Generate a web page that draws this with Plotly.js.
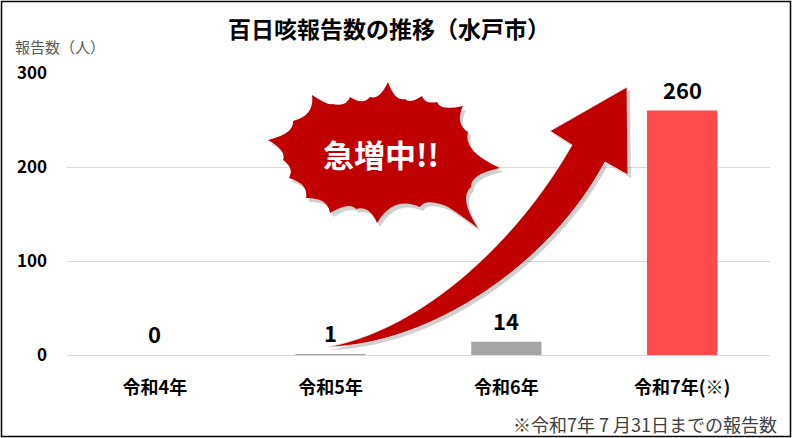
<!DOCTYPE html>
<html>
<head>
<meta charset="utf-8">
<script src="https://cdn.plot.ly/plotly-3.0.1.min.js"></script>
<style>
  html, body { margin: 0; padding: 0; background: #fff; }
  #chart { width: 792px; height: 438px; }
</style>
</head>
<body>
<div id="chart"></div>
<script>
// ---- data ----
const categories = ['令和4年', '令和5年', '令和6年', '令和7年(※)'];
const reports = [0, 1, 14, 260];
const barColors = ['#A5A5A5', '#A5A5A5', '#A5A5A5', '#FF4B4B'];
const yTickValues = [0, 100, 200, 300];
const chartTitle = '百日咳報告数の推移（水戸市）';
const yUnitLabel = '報告数（人）';
const footnote = '※令和7年 7 月31日までの報告数';
const burstText = '急増中!!';

// ---- layout geometry (pixels) ----
const W = 792, H = 438;
const M = { l: 67, r: 22, t: 73, b: 83 };
const plotW = W - M.l - M.r, plotH = H - M.t - M.b;
const PX = x => (x - M.l) / plotW;
const PY = y => (H - M.b - y) / plotH;

const JP = '"Noto Sans CJK JP", "Noto Sans", sans-serif';

// starburst decoration outline (pixel space)
const burstTips = [
  [268,140],[293,121],[312,95],[332,104],[350,97],[370,97],[388,82],[405,99],
  [422,96],[437,102],[463,106],[468,132],[500,168],[471,187],[478,228],[446,206],
  [420,207],[377,223],[356,209],[330,213],[306,198],[289,178],[283,160]
];
const burstCenter = [383,155];
function burstPath(dx, dy) {
  let d = '';
  const n = burstTips.length;
  for (let i = 0; i <= n; i++) {
    const B = burstTips[i % n];
    const bx = B[0] + dx, by = B[1] + dy;
    if (i === 0) { d += `M ${PX(bx)},${PY(by)}`; continue; }
    const A = burstTips[i - 1];
    const mx = (A[0] + B[0]) / 2, my = (A[1] + B[1]) / 2;
    const len = Math.hypot(B[0] - A[0], B[1] - A[1]);
    let vx = burstCenter[0] - mx, vy = burstCenter[1] - my;
    const vl = Math.hypot(vx, vy); vx /= vl; vy /= vl;
    const cx = mx + vx * 0.45 * len + dx, cy = my + vy * 0.45 * len + dy;
    d += ` Q ${PX(cx)},${PY(cy)} ${PX(bx)},${PY(by)}`;
  }
  return d + ' Z';
}

// curved arrow decoration (pixel space)
function arrowPath(dx, dy) {
  const p = (x, y) => `${PX(x + dx)},${PY(y + dy)}`;
  return `M ${p(327,347)} C ${p(420,330)} ${p(515,245)} ${p(572,145)}` +
         ` L ${p(550,131)} L ${p(627,87)} L ${p(628,175)} L ${p(605,162)}` +
         ` C ${p(550,265)} ${p(430,345)} ${p(327,347)} Z`;
}

const trace = {
  type: 'bar',
  x: categories,
  y: reports,
  marker: { color: barColors },
  hoverinfo: 'skip'
};

const valueLabels = categories.map((c, i) => ({
  x: c, y: reports[i], xref: 'x', yref: 'y',
  text: String(reports[i]), showarrow: false,
  yanchor: 'middle', yshift: 22,
  font: { family: JP, size: 22, color: '#000', weight: 'bold' }
}));

const layout = {
  width: W, height: H,
  margin: M,
  paper_bgcolor: '#fff', plot_bgcolor: '#fff',
  showlegend: false,
  bargap: 0.6,
  title: {
    text: chartTitle,
    x: PX(389), xref: 'paper', xanchor: 'center',
    y: 1 - 30 / H, yref: 'container', yanchor: 'middle',
    font: { family: JP, size: 23, color: '#000', weight: 'bold' }
  },
  xaxis: {
    type: 'category',
    showgrid: false, zeroline: false, showline: false,
    ticks: '', ticklabelstandoff: 20,
    tickfont: { family: JP, size: 18, color: '#000', weight: 'bold' },
    fixedrange: true
  },
  yaxis: {
    range: [0, 300],
    tickvals: yTickValues,
    showgrid: true, gridcolor: '#D9D9D9', gridwidth: 1,
    zeroline: true, zerolinecolor: '#D9D9D9', zerolinewidth: 1,
    showline: false, ticks: '', ticklabelstandoff: 19,
    tickfont: { family: JP, size: 17, color: '#000', weight: 'bold' },
    fixedrange: true
  },
  shapes: [
    { type: 'rect', xref: 'paper', yref: 'paper',
      x0: PX(1.5), x1: PX(790.5), y0: PY(436.5), y1: PY(1.5),
      line: { color: '#000', width: 1.5 }, fillcolor: 'rgba(0,0,0,0)' },
    { type: 'path', xref: 'paper', yref: 'paper', path: arrowPath(3, 3),
      fillcolor: 'rgba(0,0,0,0.18)', line: { width: 0 } },
    { type: 'path', xref: 'paper', yref: 'paper', path: arrowPath(0, 0),
      fillcolor: '#C00000', line: { color: '#F2F2F2', width: 0.8 } },
    { type: 'path', xref: 'paper', yref: 'paper', path: burstPath(3, 4),
      fillcolor: 'rgba(0,0,0,0.18)', line: { width: 0 } },
    { type: 'path', xref: 'paper', yref: 'paper', path: burstPath(0, 0),
      fillcolor: '#C00000', line: { width: 0 } }
  ],
  annotations: valueLabels.concat([
    { xref: 'paper', yref: 'paper', x: PX(13), y: PY(47),
      xanchor: 'left', yanchor: 'middle', showarrow: false,
      text: yUnitLabel, font: { family: JP, size: 15, color: '#595959' } },
    { xref: 'paper', yref: 'paper', x: PX(779), y: PY(424),
      xanchor: 'right', yanchor: 'middle', showarrow: false,
      text: footnote, font: { family: JP, size: 18, color: '#404040' } },
    { xref: 'paper', yref: 'paper', x: PX(381), y: PY(153),
      xanchor: 'center', yanchor: 'middle', showarrow: false,
      text: burstText, font: { family: JP, size: 31, color: '#FFFFFF', weight: 'bold' } }
  ])
};

Plotly.newPlot('chart', [trace], layout, { staticPlot: true, displayModeBar: false });
</script>
</body>
</html>
